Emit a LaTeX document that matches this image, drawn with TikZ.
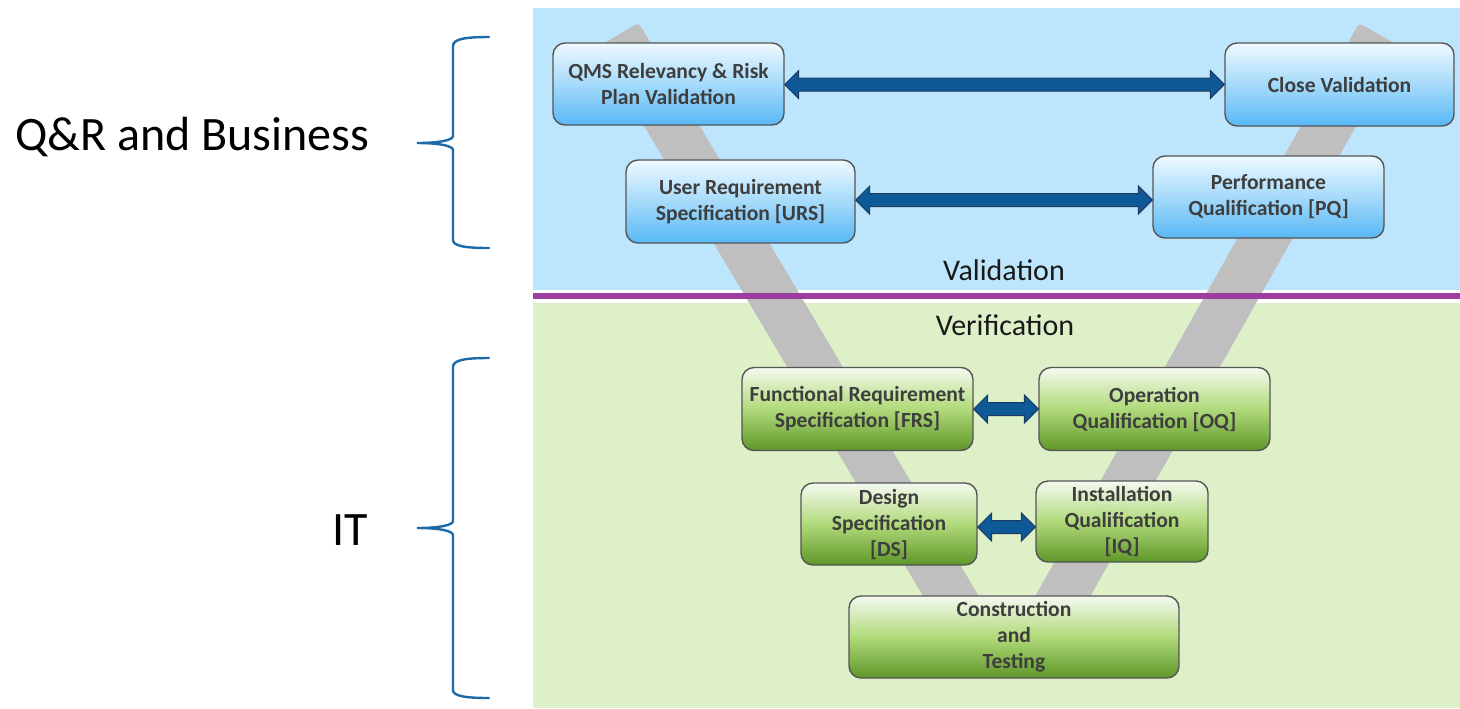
\documentclass[tikz,border=0pt]{standalone}
\usepackage{fontspec}
\setmainfont{Carlito}
\usetikzlibrary{calc}

\definecolor{panelblue}{RGB}{189,229,251}
\definecolor{panelgreen}{RGB}{222,240,200}
\definecolor{vgray}{RGB}{191,191,191}
\definecolor{divider}{RGB}{155,62,160}
\definecolor{bracecol}{RGB}{28,106,168}
\definecolor{boxtext}{RGB}{62,62,62}
\definecolor{boxedge}{RGB}{85,85,85}
\definecolor{arrowfill}{RGB}{14,90,150}
\definecolor{arrowedge}{RGB}{28,58,100}
\definecolor{bluetop}{RGB}{238,249,255}
\definecolor{bluemid}{RGB}{165,218,250}
\definecolor{bluebot}{RGB}{88,184,246}
\definecolor{greentop}{RGB}{244,250,240}
\definecolor{greenmid}{RGB}{176,218,122}
\definecolor{greenbot}{RGB}{94,150,40}

\tikzset{
  stage/.style={rounded corners=6pt, draw=boxedge, line width=0.7pt,
    align=center, inner sep=0pt, text=boxtext,
    font=\bfseries\fontsize{10.8}{13}\selectfont},
  valbox/.style={stage, top color=bluetop, bottom color=bluebot, middle color=bluemid},
  verbox/.style={stage, top color=greentop, bottom color=greenbot, middle color=greenmid},
  blockarrow/.style={fill=arrowfill, draw=arrowedge, line width=0.5pt, line join=miter},
  vstroke/.style={fill=vgray, rounded corners=2pt},
  brace/.style={draw=bracecol, line width=1.2pt, line cap=round},
  sidelabel/.style={font=\fontsize{24}{28}\selectfont, text=black, inner sep=0pt},
  phase/.style={font=\fontsize{15}{18}\selectfont, text=black!90, inner sep=0pt},
}

% double-headed block arrow between two anchors, level with the first one
\newcommand\blockarrow[2]{%
  \path[blockarrow] let \p1=(#1), \p2=(#2) in
    (\x1,\y1) -- (\x1+7pt,\y1+7pt) -- (\x1+7pt,\y1+3.25pt)
    -- (\x2-7pt,\y1+3.25pt) -- (\x2-7pt,\y1+7pt) -- (\x2,\y1)
    -- (\x2-7pt,\y1-7pt) -- (\x2-7pt,\y1-3.25pt)
    -- (\x1+7pt,\y1-3.25pt) -- (\x1+7pt,\y1-7pt) -- cycle;}

\begin{document}
\begin{tikzpicture}[x=0.5pt, y=-0.5pt]
  \useasboundingbox (0,0) rectangle (1460,708);

  % background panels and the divider between them
  \fill[panelblue]  (533,8) rectangle (1460,290);
  \fill[panelgreen] (533,302.5) rectangle (1460,708);

  % the grey V behind the stages
  \path[vstroke] (597.4,47.2) -- (638.6,22.8) -- (997.6,627.8) -- (956.4,652.2) -- cycle;
  \path[vstroke] (1359.1,23.2) -- (1400.9,46.8) -- (1058.9,651.8) -- (1017.1,628.2) -- cycle;

  \fill[divider] (533,293.3) rectangle (1460,298.7);

  \node[phase] (validation) at (1004,270) {Validation};
  \node[phase] (verification) at (1005,325) {Verification};

  % braces and their labels
  \draw[brace] (489,37) .. controls (465,37) and (453,39) .. (453,46) -- (453,136)
    .. controls (453,140) and (440,143) .. (417,143)
    .. controls (440,143) and (453,146) .. (453,150) -- (453,240)
    .. controls (453,246) and (465,248) .. (489,248);
  \draw[brace] (489,358) .. controls (465,358) and (453,360) .. (453,367) -- (453,521)
    .. controls (453,525) and (440,528) .. (417,528)
    .. controls (440,528) and (453,531) .. (453,535) -- (453,690)
    .. controls (453,696) and (465,698) .. (489,698);
  \node[sidelabel, anchor=west] (qrb) at (15,137) {Q\&R and Business};
  \node[sidelabel] (it) at (350,530) {IT};

  % validation stages
  \node[valbox, minimum width=115.5pt, minimum height=41pt] (qms) at (668.5,84)
    {QMS Relevancy \& Risk\\Plan Validation};
  \node[valbox, minimum width=114.5pt, minimum height=41.5pt] (close) at (1339.5,84.5)
    {Close Validation};
  \node[valbox, minimum width=114.5pt, minimum height=41.5pt] (urs) at (740.5,201.5)
    {User Requirement\\Specification [URS]};
  \node[valbox, minimum width=115.5pt, minimum height=41pt] (pq) at (1268.5,197)
    {Performance\\Qualification [PQ]};

  % verification stages
  \node[verbox, minimum width=115.5pt, minimum height=41.5pt] (frs) at (857.5,409)
    {Functional Requirement\\Specification [FRS]};
  \node[verbox, minimum width=115.5pt, minimum height=41.5pt] (oq) at (1154.5,409)
    {Operation\\Qualification [OQ]};
  \node[verbox, minimum width=88pt, minimum height=41pt] (ds) at (889,524)
    {Design\\Specification\\{}[DS]};
  \node[verbox, minimum width=86pt, minimum height=40.5pt] (iq) at (1122,521.5)
    {Installation\\Qualification\\{}[IQ]};
  \node[verbox, minimum width=165pt, minimum height=41pt] (ct) at (1014,637)
    {Construction\\and\\Testing};

  % links between matching stages
  \blockarrow{[yshift=-0.25pt]qms.east}{close.west}
  \blockarrow{[yshift=0.75pt]urs.east}{pq.west}
  \blockarrow{frs.east}{oq.west}
  \blockarrow{[yshift=-1.5pt]ds.east}{iq.west}
\end{tikzpicture}
\end{document}
